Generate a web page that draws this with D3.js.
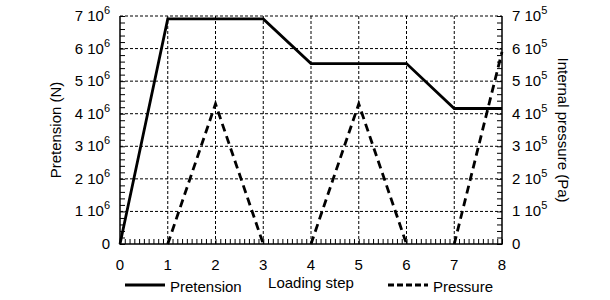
<!DOCTYPE html>
<html>
<head>
<meta charset="utf-8">
<script src="https://cdn.jsdelivr.net/npm/d3@7"></script>
<style>
  body { margin: 0; background: #fff; }
  text { font-family: "Liberation Sans", Arial, sans-serif; fill: #000; }
</style>
</head>
<body>
<svg id="chart" width="610" height="300"></svg>
<script>
// data
var steps = [0, 1, 2, 3, 4, 5, 6, 7, 8];
var pretensionStep = [0, 1, 3, 4, 6, 7, 8];
var pretension = [0, 6.91, 6.91, 5.54, 5.54, 4.16, 4.16];      // x 10^6 N
var pressureStep = [1, 2, 3, 4, 5, 6, 7, 8];
var pressure = [0, 4.3, 0, 0, 4.3, 0, 0, 5.9];                  // x 10^5 Pa
var yTicks = [0, 1, 2, 3, 4, 5, 6, 7];

var svg = d3.select("#chart");
var pLeft = 120, pRight = 502, pTop = 16, pBottom = 244;

var x = d3.scaleLinear().domain([0, 8]).range([pLeft, pRight]);
var yL = d3.scaleLinear().domain([0, 7]).range([pBottom, pTop]);
var yR = d3.scaleLinear().domain([0, 7]).range([pBottom, pTop]);

// grid (dashed)
svg.append("g").selectAll("line").data(steps.slice(1, -1)).enter().append("line")
  .attr("x1", d => x(d)).attr("x2", d => x(d))
  .attr("y1", pTop).attr("y2", pBottom)
  .attr("stroke", "#000").attr("stroke-width", 1).attr("stroke-dasharray", "3,2");
svg.append("g").selectAll("line").data(yTicks.slice(1)).enter().append("line")
  .attr("x1", pLeft).attr("x2", pRight)
  .attr("y1", d => yL(d)).attr("y2", d => yL(d))
  .attr("stroke", "#000").attr("stroke-width", 1).attr("stroke-dasharray", "3,2");

// frame: left, right, bottom solid
svg.append("path")
  .attr("d", "M" + pLeft + "," + pTop + "V" + pBottom + "H" + pRight + "V" + pTop)
  .attr("fill", "none").attr("stroke", "#000").attr("stroke-width", 1.5);

// minor ticks, inward
svg.append("g").attr("transform", "translate(" + pLeft + ",0)")
  .call(d3.axisRight(yL).ticks(35).tickSize(5).tickFormat("").tickSizeOuter(0))
  .call(g => g.select(".domain").remove());
svg.append("g").attr("transform", "translate(" + pRight + ",0)")
  .call(d3.axisLeft(yR).ticks(35).tickSize(5).tickFormat("").tickSizeOuter(0))
  .call(g => g.select(".domain").remove());
svg.append("g").attr("transform", "translate(0," + pBottom + ")")
  .call(d3.axisTop(x).ticks(80).tickSize(5).tickFormat("").tickSizeOuter(0))
  .call(g => g.select(".domain").remove());

// tick labels
function sciLabel(g, v, exp) {
  if (v === 0) { g.append("tspan").text("0"); return; }
  g.append("tspan").text(v + " 10");
  g.append("tspan").attr("dy", -7).attr("font-size", 11).text(exp);
}
yTicks.forEach(function (v) {
  var t = svg.append("text").attr("x", 110).attr("y", yL(v) + 5)
    .attr("text-anchor", "end").attr("font-size", 15);
  sciLabel(t, v, "6");
  var r = svg.append("text").attr("x", 512).attr("y", yR(v) + 5)
    .attr("text-anchor", "start").attr("font-size", 15);
  sciLabel(r, v, "5");
});
steps.forEach(function (v) {
  svg.append("text").attr("x", x(v)).attr("y", 270)
    .attr("text-anchor", "middle").attr("font-size", 15).text(v);
});

// axis titles
svg.append("text").attr("transform", "translate(61," + ((pTop + pBottom) / 2) + ") rotate(-90)")
  .attr("text-anchor", "middle").attr("font-size", 15).text("Pretension (N)");
svg.append("text").attr("transform", "translate(558," + ((pTop + pBottom) / 2) + ") rotate(90)")
  .attr("text-anchor", "middle").attr("font-size", 15).text("Internal pressure (Pa)");
svg.append("text").attr("x", 311).attr("y", 288)
  .attr("text-anchor", "middle").attr("font-size", 15).text("Loading step");

// series
var lineP = d3.line().x((d, i) => x(pretensionStep[i])).y(d => yL(d));
svg.append("path").datum(pretension).attr("d", lineP)
  .attr("fill", "none").attr("stroke", "#000").attr("stroke-width", 2.8);

// pressure: split into cycles, the flat zero parts sit on the axis
var pts = pressure.map((v, i) => [pressureStep[i], v]);
var cycles = [], cur = [];
pts.forEach(function (p, i) {
  if (i > 0 && p[1] === 0 && pts[i - 1][1] === 0) {
    if (cur.length > 1) cycles.push(cur);
    cur = [];
  }
  cur.push(p);
});
if (cur.length > 1) cycles.push(cur);
var lineQ = d3.line().x(d => x(d[0])).y(d => yR(d[1]));
svg.append("g").selectAll("path").data(cycles).enter().append("path")
  .attr("d", lineQ)
  .attr("fill", "none").attr("stroke", "#000").attr("stroke-width", 2.8)
  .attr("stroke-dasharray", "8,5");

// legend
svg.append("line").attr("x1", 125).attr("x2", 165).attr("y1", 285).attr("y2", 285)
  .attr("stroke", "#000").attr("stroke-width", 2.8);
svg.append("text").attr("x", 170).attr("y", 292).attr("font-size", 15).text("Pretension");
svg.append("line").attr("x1", 388).attr("x2", 428).attr("y1", 285).attr("y2", 285)
  .attr("stroke", "#000").attr("stroke-width", 2.8).attr("stroke-dasharray", "6,3");
svg.append("text").attr("x", 433).attr("y", 292).attr("font-size", 15).text("Pressure");
</script>
</body>
</html>
